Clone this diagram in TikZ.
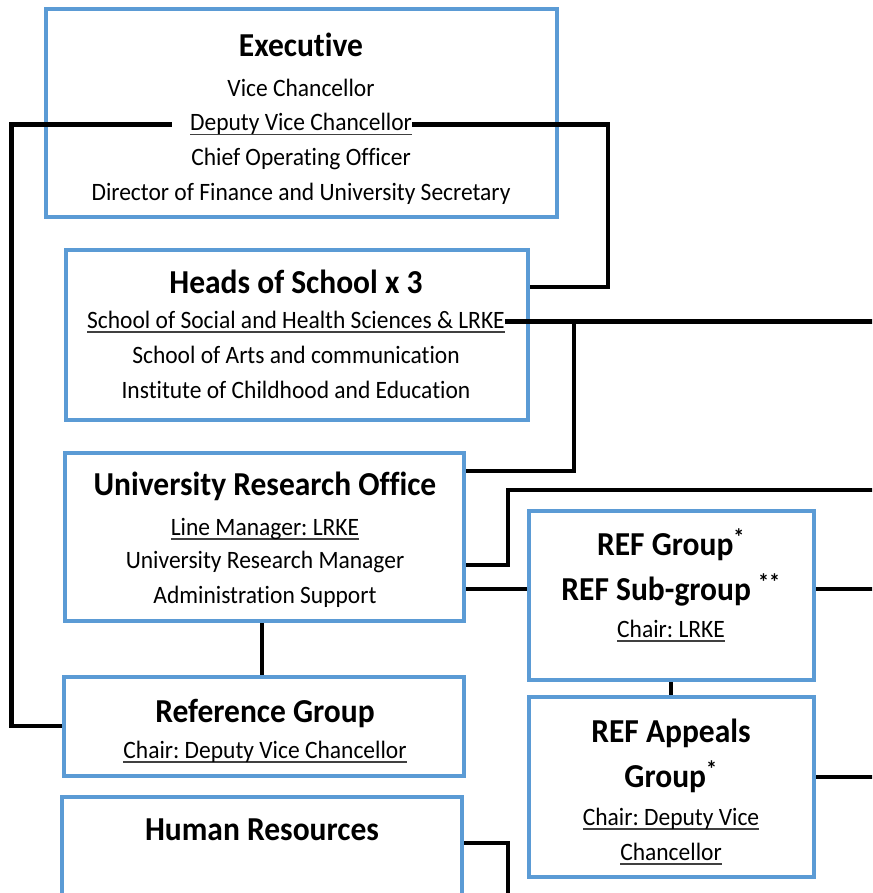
\documentclass[tikz,border=0pt]{standalone}
\usepackage{fontspec}
\setmainfont{Carlito}[FakeStretch=0.94, Ligatures=CommonOff]
\definecolor{boxblue}{HTML}{5B9BD5}
\frenchspacing
\newcommand\myul[1]{\setbox0=\hbox{#1}\leavevmode\rlap{\color{black!75}\rule[-4.5pt]{\wd0}{1.8pt}}\box0}
\tikzset{
  box/.style={draw=boxblue, line width=4.5pt, fill=white, inner sep=0pt, rectangle},
  conn/.style={draw=black, line width=4.5pt, line join=miter},
  ttl/.style={font=\fontsize{33.5}{40}\selectfont\bfseries\frenchspacing, anchor=base, inner sep=0pt},
  txt/.style={font=\fontsize{25}{30}\selectfont\frenchspacing, anchor=base, inner sep=0pt},
}
\begin{document}
\begin{tikzpicture}[x=1pt,y=-1pt]
\useasboundingbox (0,0) rectangle (872,893);
\clip (0,0) rectangle (872,893);
% boxes
\node[box, minimum width=511pt, minimum height=208pt] (exec) at (301.5,113) {};
\node[box, minimum width=462pt, minimum height=170pt] (heads) at (297,335) {};
\node[box, minimum width=399pt, minimum height=168pt] (uro) at (264.5,537) {};
\node[box, minimum width=285pt, minimum height=169pt] (refg) at (671.5,595.5) {};
\node[box, minimum width=400pt, minimum height=99pt] (rg) at (264,726.5) {};
\node[box, minimum width=285pt, minimum height=180pt] (app) at (671.5,787) {};
\node[box, minimum width=400pt, minimum height=162pt] (hr) at (262,878) {};
% texts
\node[ttl] (exect) at (301,57) {Executive};
\node[txt] (vc) at (301,97) {Vice Chancellor};
\node[txt] (dvc) at (301,131) {\myul{Deputy Vice Chancellor}};
\node[txt] (coo) at (301,166) {Chief Operating Officer};
\node[txt] (dfin) at (301,201) {Director of Finance and University Secretary};

\node[ttl] (headst) at (296,293) {Heads of School x 3};
\node[txt] (sshs) at (296,328) {\myul{School of Social and Health Sciences \& LRKE}};
\node[txt] (sac) at (296,363) {School of Arts and communication};
\node[txt] (ice) at (296,398) {Institute of Childhood and Education};

\node[ttl] (urot) at (265,495) {University Research Office};
\node[txt] (lm) at (265,535) {\myul{Line Manager: LRKE}};
\node[txt] (urm) at (265,568) {University Research Manager};
\node[txt] (adm) at (265,603) {Administration Support};

\node[ttl] (refgt) at (671,555) {REF Group\textsuperscript{*}};
\node[ttl] (refsg) at (671,600) {REF Sub-group \textsuperscript{**}};
\node[txt] (refch) at (671,637) {\myul{Chair: LRKE}};

\node[ttl] (rgt) at (265,722) {Reference Group};
\node[txt] (rgch) at (265,758) {\myul{Chair: Deputy Vice Chancellor}};

\node[ttl] (appt) at (671,742) {REF Appeals};
\node[ttl] (appt2) at (671,787) {Group\textsuperscript{*}};
\node[txt] (appch) at (671,825) {\myul{Chair: Deputy Vice}};
\node[txt] (appch2) at (671,860) {\myul{Chancellor}};

\node[ttl] (hrt) at (262,840) {Human Resources};
% connectors
\draw[conn] ([xshift=-18pt]dvc.west) -| (11.5,726) -- (rg.west |- 0,726);
\draw[conn] (dvc.east) -| (608,287) -- (heads.east |- 0,287);
\draw[conn] (sshs.east) -- (sshs.east -| 880,0);
\draw[conn] (sshs.east -| 574,0) |- (uro.east |- 0,471);
\draw[conn] (uro.east |- 0,565) -| (508,490) -- (880,490);
\draw[conn] (uro.east |- 0,589) -- (refg.west |- 0,589);
\draw[conn] (refg.east |- 0,589) -- (880,589);
\draw[conn] (uro.south -| 262,0) -- (rg.north -| 262,0);
\draw[conn] (refg.south -| 671,0) -- (app.north -| 671,0);
\draw[conn] (app.east |- 0,777) -- (880,777);
\draw[conn] (hr.east |- 0,843) -| (508,900);
\end{tikzpicture}
\end{document}
